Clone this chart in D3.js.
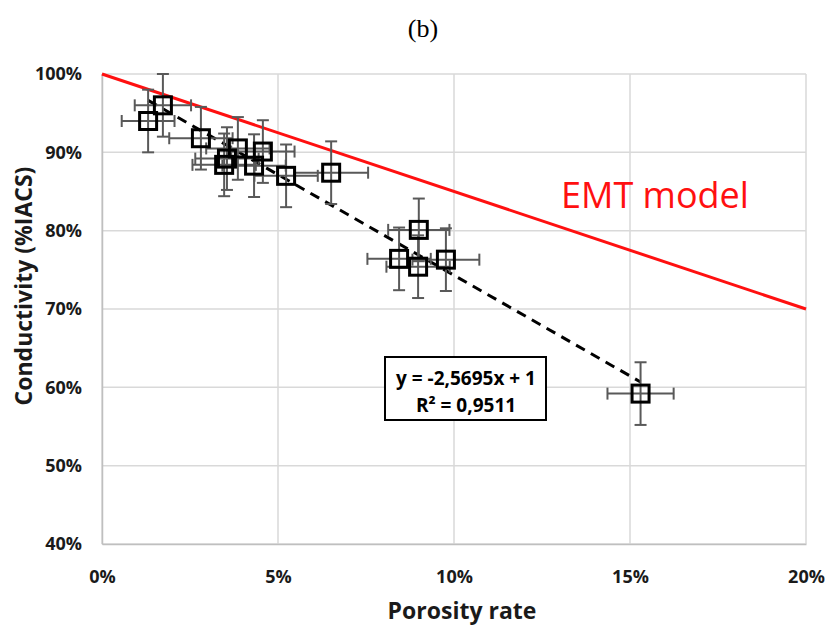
<!DOCTYPE html>
<html><head><meta charset="utf-8">
<script src="https://cdn.jsdelivr.net/npm/d3@7"></script>
<style>body{margin:0;background:#fff}</style>
</head><body><svg id="c" width="832" height="625"></svg>
<script>
// Data (porosity %, conductivity %IACS, x error, y error)
const porosity     = [1.31, 1.73, 2.81, 3.47, 3.55, 3.86, 4.32, 4.57, 5.23, 6.51, 9.0, 8.44, 8.98, 9.77, 15.3];
const conductivity = [94.0, 96.0, 91.8, 88.4, 89.2, 90.5, 88.3, 90.1, 87.0, 87.4, 80.1, 76.4, 75.4, 76.3, 59.2];
const xError       = [0.75, 0.8, 0.9, 0.9, 0.9, 0.9, 0.9, 0.9, 0.9, 1.05, 0.87, 0.9, 0.9, 0.95, 0.94];
const yError       = [4, 4, 4, 4, 4, 4, 4, 4, 4, 4, 4, 4, 4, 4, 4];
const xTicks = [0, 5, 10, 15, 20];
const yTicks = [40, 50, 60, 70, 80, 90, 100];
const emtModel = [[0, 100], [20, 70]];
const slope = -2.5695, intercept = 1;
const eqLines = ["y = -2,5695x + 1", "R\u00b2 = 0,9511"];

const svg = d3.select("#c");
const L = 102, R = 806, T = 74, B = 544;
const x = d3.scaleLinear().domain([0, 20]).range([L, R]);
const y = d3.scaleLinear().domain([40, 100]).range([B, T]);
const font = "'Open Sans', 'Noto Sans', sans-serif";

svg.append("text").attr("x", 423).attr("y", 37).attr("text-anchor", "middle")
  .attr("font-family", "'Liberation Serif', serif").attr("font-size", 26).text("(b)");

// grid
const g = svg.append("g");
g.selectAll(".gy").data(yTicks).join("line")
  .attr("x1", L).attr("x2", R).attr("y1", d => y(d)).attr("y2", d => y(d))
  .attr("stroke", "#d9d9d9").attr("stroke-width", 1.5);
g.selectAll(".gx").data(xTicks).join("line")
  .attr("y1", T).attr("y2", B).attr("x1", d => x(d)).attr("x2", d => x(d))
  .attr("stroke", "#d9d9d9").attr("stroke-width", 1.5);

// axes
const xAxis = svg.append("g").attr("transform", `translate(0,${B})`)
  .call(d3.axisBottom(x).tickValues(xTicks).tickFormat(d => d + "%").tickSize(0).tickPadding(26));
const yAxis = svg.append("g").attr("transform", `translate(${L},0)`)
  .call(d3.axisLeft(y).tickValues(yTicks).tickFormat(d => d + "%").tickSize(0).tickPadding(20));
[xAxis, yAxis].forEach(a => {
  a.select(".domain").attr("stroke", "#bfbfbf").attr("stroke-width", 1.5);
  a.selectAll("text").attr("font-family", font).attr("font-weight", "bold")
    .attr("font-size", 18).attr("fill", "#1a1a1a");
});

svg.append("text").attr("x", 462).attr("y", 619).attr("text-anchor", "middle")
  .attr("font-family", font).attr("font-weight", "bold").attr("font-size", 23).attr("fill", "#1a1a1a")
  .text("Porosity rate");
svg.append("text").attr("transform", "translate(32,286) rotate(-90)").attr("text-anchor", "middle")
  .attr("font-family", font).attr("font-weight", "bold").attr("font-size", 23).attr("fill", "#1a1a1a")
  .text("Conductivity (%IACS)");

// EMT model line
svg.append("path").datum(emtModel)
  .attr("d", d3.line().x(d => x(d[0])).y(d => y(d[1])))
  .attr("stroke", "#ff1010").attr("stroke-width", 3).attr("fill", "none");
svg.append("text").attr("x", 561).attr("y", 208).attr("font-family", font)
  .attr("font-size", 36).attr("fill", "#ff1010").text("EMT model");

// trendline
const xmin = d3.min(porosity), xmax = d3.max(porosity);
svg.append("path").datum([xmin, xmax])
  .attr("d", d3.line().x(d => x(d)).y(d => y(100 * (slope * d / 100 + intercept))))
  .attr("stroke", "#000").attr("stroke-width", 3).attr("stroke-dasharray", "10,7").attr("fill", "none");

// error bars
const pts = porosity.map((p, i) => ({p, c: conductivity[i], ex: xError[i], ey: yError[i]}));
const eb = svg.append("g").attr("stroke", "#595959").attr("stroke-width", 2);
const cap = 6;
pts.forEach(d => {
  eb.append("line").attr("x1", x(d.p - d.ex)).attr("x2", x(d.p + d.ex)).attr("y1", y(d.c)).attr("y2", y(d.c));
  eb.append("line").attr("y1", y(d.c - d.ey)).attr("y2", y(d.c + d.ey)).attr("x1", x(d.p)).attr("x2", x(d.p));
  [d.p - d.ex, d.p + d.ex].forEach(v => eb.append("line").attr("x1", x(v)).attr("x2", x(v)).attr("y1", y(d.c) - cap).attr("y2", y(d.c) + cap));
  [d.c - d.ey, d.c + d.ey].forEach(v => eb.append("line").attr("y1", y(v)).attr("y2", y(v)).attr("x1", x(d.p) - cap).attr("x2", x(d.p) + cap));
});
const s = 17;
svg.append("g").selectAll("rect").data(pts).join("rect")
  .attr("x", d => x(d.p) - s / 2).attr("y", d => y(d.c) - s / 2).attr("width", s).attr("height", s)
  .attr("fill", "none").attr("stroke", "#000").attr("stroke-width", 3);

// equation box
svg.append("rect").attr("x", 385).attr("y", 357).attr("width", 161).attr("height", 63)
  .attr("fill", "#fff").attr("stroke", "#000").attr("stroke-width", 2);
svg.selectAll(".eq").data(eqLines).join("text")
  .attr("x", 466).attr("y", (d, i) => 385 + i * 27).attr("text-anchor", "middle")
  .attr("font-family", font).attr("font-weight", "bold").attr("font-size", 19).attr("fill", "#000")
  .text(d => d);
</script></body></html>
